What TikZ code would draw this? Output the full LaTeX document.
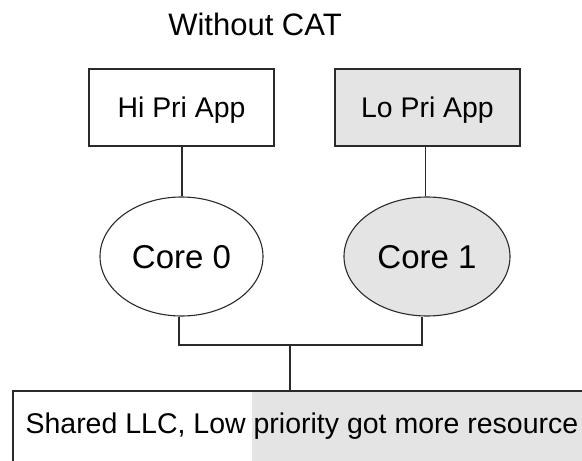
\documentclass[tikz,border=0pt]{standalone}
\usepackage{fontspec}
\setmainfont{Liberation Sans}
\usetikzlibrary{shapes.geometric}
\definecolor{lightfill}{HTML}{E4E4E4}
\definecolor{linecol}{HTML}{2A2A2A}
\begin{document}
\begin{tikzpicture}[x=1pt,y=-1pt,
  line width=1.1pt,
  appbox/.style={draw=linecol,rectangle,minimum width=185pt,minimum height=77pt,inner sep=0pt,
    font=\fontsize{28.4}{30}\selectfont,text height=20.3pt,text depth=0pt},
  corenode/.style={draw=linecol,ellipse,inner sep=0pt,
    font=\fontsize{33}{36}\selectfont,text height=23.6pt,text depth=0pt},
  wire/.style={draw=linecol,line width=1.1pt}]
\useasboundingbox (0,0) rectangle (582,461);
\node[font=\fontsize{31}{34}\selectfont,inner sep=0pt,text height=22.2pt,text depth=0pt] (title) at (255,24) {Without CAT};
\node[appbox] (hi) at (181.5,107.5) {Hi Pri App};
\node[appbox,fill=lightfill] (lo) at (427.5,107.5) {Lo Pri App};
\node[corenode,minimum width=163pt,minimum height=119pt] (c0) at (181.5,256.5) {Core 0};
\node[corenode,fill=lightfill,minimum width=166pt,minimum height=119pt] (c1) at (427,256.5) {Core 1};
\node[draw=linecol,rectangle,anchor=north west,minimum width=600pt,minimum height=100pt,inner sep=0pt] (llc) at (12.7,390.5) {};
\fill[lightfill] (252,392) rectangle (600,470);
\draw[linecol,line width=1.1pt] (12.7,470) -- (12.7,390.5) -- (600,390.5);
\node[anchor=west,inner sep=0pt,font=\fontsize{28.5}{30}\selectfont,text height=20.4pt,text depth=0pt] (llctext) at (25,423) {Shared LLC, Low priority got more resource};
\coordinate (join) at (290,345);
\path[wire] (hi.south -| 182,0) -- (c0.north -| 182,0);
\path[wire] (lo.south -| 425.5,0) -- (c1.north -| 425.5,0);
\path[wire] (c0.south -| 179,0) |- (join) -| (c1.south -| 422,0);
\path[wire] (join) -- (join |- llc.north);
\end{tikzpicture}
\end{document}
